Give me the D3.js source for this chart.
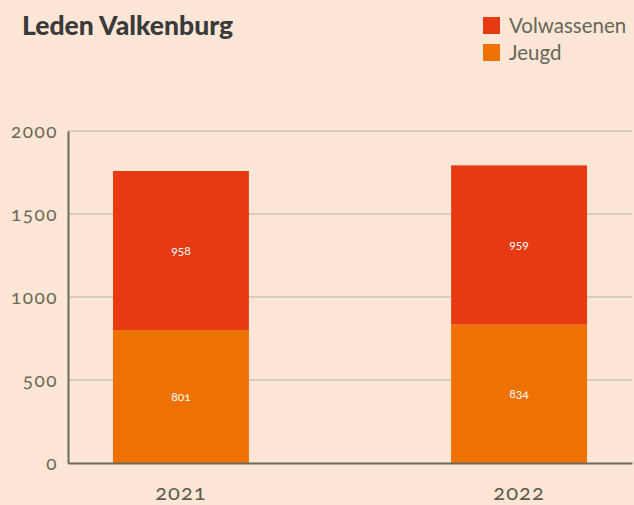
<!DOCTYPE html>
<html>
<head>
<meta charset="utf-8">
<script src="https://cdn.jsdelivr.net/npm/d3@7"></script>
<style>
  body { margin: 0; background: #fde6d5; }
  svg { display: block; font-family: Lato, sans-serif; font-variant-numeric: oldstyle-nums; }
</style>
</head>
<body>
<div id="output"></div>
<script>
// data
const years = ["2021", "2022"];
const jeugd = [801, 834];
const volwassenen = [958, 959];
const seriesNames = ["Jeugd", "Volwassenen"];
const yTicks = [0, 500, 1000, 1500, 2000];

const width = 634, height = 505;
const colors = { Jeugd: "#ee7203", Volwassenen: "#e63a12" };
const axisColor = "#6b6a56";

const rows = years.map((y, i) => ({ year: y, Jeugd: jeugd[i], Volwassenen: volwassenen[i] }));
const stacked = d3.stack().keys(seriesNames)(rows);

const x = d3.scaleBand()
  .domain(years)
  .range([68, 632])
  .paddingInner(0.598)
  .paddingOuter(0.133);

const y = d3.scaleLinear().domain([0, 2000]).range([463, 131]);

const svg = d3.select("#output").append("svg")
  .attr("width", width)
  .attr("height", height);

svg.append("rect").attr("width", width).attr("height", height).attr("fill", "#fde6d5");

// gridlines
svg.append("g")
  .selectAll("line")
  .data(yTicks.filter(d => d > 0))
  .join("line")
  .attr("x1", 68).attr("x2", 632)
  .attr("y1", d => y(d)).attr("y2", d => y(d))
  .attr("stroke", "#d9cbbd")
  .attr("stroke-width", 2);

// bars
svg.append("g")
  .selectAll("g")
  .data(stacked)
  .join("g")
  .attr("fill", d => colors[d.key])
  .selectAll("rect")
  .data(d => d)
  .join("rect")
  .attr("x", d => x(d.data.year))
  .attr("width", x.bandwidth())
  .attr("y", d => y(d[1]))
  .attr("height", d => y(d[0]) - y(d[1]));

// value labels
svg.append("g")
  .selectAll("g")
  .data(stacked)
  .join("g")
  .selectAll("text")
  .data(d => d)
  .join("text")
  .attr("x", d => x(d.data.year) + x.bandwidth() / 2)
  .attr("y", d => (y(d[0]) + y(d[1])) / 2)
  .attr("dy", "0.35em")
  .attr("text-anchor", "middle")
  .attr("fill", "#fff")
  .attr("font-size", 12)
  .text(d => d[1] - d[0]);

// y axis
const yAxis = svg.append("g")
  .attr("transform", "translate(68,0)")
  .call(d3.axisLeft(y).tickValues(yTicks).tickFormat(d3.format("d")).tickSize(0).tickPadding(10));
yAxis.select(".domain").attr("stroke", axisColor).attr("stroke-width", 2);
yAxis.selectAll("text")
  .attr("fill", axisColor)
  .attr("font-size", 19)
  .attr("letter-spacing", 1.5)
  .attr("font-family", "Lato, sans-serif");

// x axis
const xAxis = svg.append("g")
  .attr("transform", "translate(0,463)")
  .call(d3.axisBottom(x).tickSize(0).tickPadding(21));
xAxis.select(".domain").attr("stroke", axisColor).attr("stroke-width", 2);
xAxis.selectAll("text")
  .attr("fill", "#5e5d4c")
  .attr("font-size", 22)
  .attr("letter-spacing", 1)
  .attr("font-family", "Lato, sans-serif");

// title
svg.append("text")
  .attr("x", 22).attr("y", 35)
  .attr("fill", "#3a3a3a")
  .attr("font-size", 26.5)
  .attr("font-weight", 900)
  .text("Leden Valkenburg");

// legend
const legend = svg.append("g")
  .selectAll("g")
  .data(["Volwassenen", "Jeugd"])
  .join("g")
  .attr("transform", (d, i) => `translate(483,${17 + i * 27})`);
legend.append("rect")
  .attr("width", 17).attr("height", 17)
  .attr("fill", d => colors[d]);
legend.append("text")
  .attr("x", 26).attr("y", 9)
  .attr("dy", "0.35em")
  .attr("fill", "#66665a")
  .attr("font-size", 20.5)
  .text(d => d);
</script>
</body>
</html>
